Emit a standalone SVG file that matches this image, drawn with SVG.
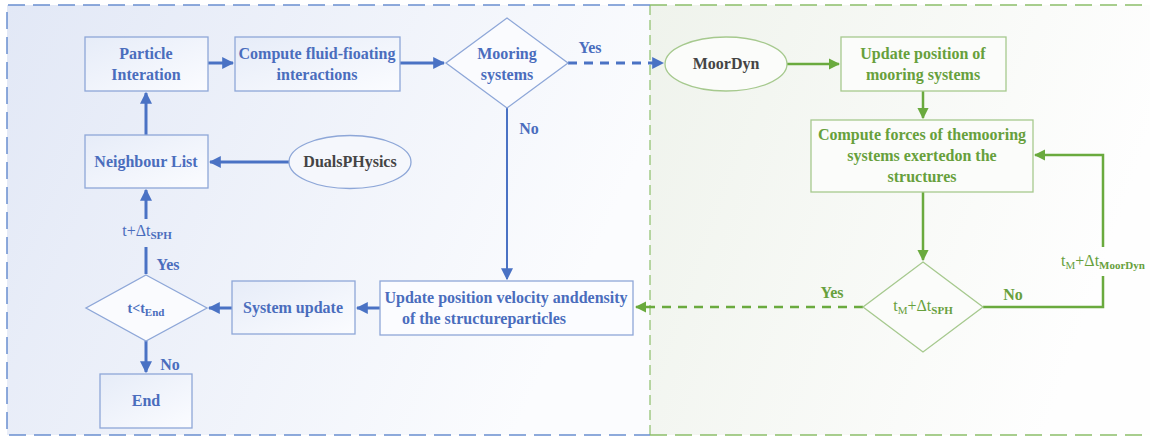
<svg xmlns="http://www.w3.org/2000/svg" width="1151" height="441" viewBox="0 0 1151 441">
<defs>
<linearGradient id="gb" x1="0" y1="0" x2="1" y2="0.3">
<stop offset="0" stop-color="#e2e8f6"/><stop offset="1" stop-color="#fbfcfe"/>
</linearGradient>
<linearGradient id="gg" x1="0" y1="0" x2="1" y2="0.3">
<stop offset="0" stop-color="#eff3ec"/><stop offset="1" stop-color="#fefefe"/>
</linearGradient>
<linearGradient id="nb" x1="0" y1="0" x2="1" y2="1">
<stop offset="0" stop-color="#e6ecf8"/><stop offset="1" stop-color="#fbfcff"/>
</linearGradient>
<marker id="ab" viewBox="0 0 10 10" refX="9" refY="5" markerWidth="4" markerHeight="4" orient="auto" markerUnits="strokeWidth">
<path d="M0,0 L10,5 L0,10 z" fill="#4a72c4"/>
</marker>
<marker id="ab2" viewBox="0 0 10 10" refX="9" refY="5" markerWidth="6" markerHeight="6" orient="auto" markerUnits="strokeWidth">
<path d="M0,0 L10,5 L0,10 z" fill="#4a72c4"/>
</marker>
<marker id="ag" viewBox="0 0 10 10" refX="9" refY="5" markerWidth="4.5" markerHeight="4.5" orient="auto" markerUnits="strokeWidth">
<path d="M0,0 L10,5 L0,10 z" fill="#6aaa3e"/>
</marker>
</defs>
<style>
.bx{fill:url(#nb);stroke:#8ea7d8;stroke-width:1.3}
.gx{fill:#fbfcfa;stroke:#a6c98e;stroke-width:1.3}
text{font-family:'Liberation Serif','Times New Roman',serif;font-weight:bold;font-size:16px;text-anchor:middle}
.tb{fill:#4a6dbd}
.tg{fill:#67a03c}
.td{fill:#444}
.nw{font-weight:normal}
.lb{stroke:#4a72c4;stroke-width:3;fill:none}
.lg{stroke:#6aaa3e;stroke-width:2.5;fill:none}
.sub{font-size:11px}
</style>
<rect x="0" y="0" width="1151" height="441" fill="#fff"/>
<rect x="7" y="5" width="643" height="430" fill="url(#gb)"/>
<rect x="650" y="5" width="500" height="430" fill="url(#gg)"/>
<path d="M650,5 H1150 M650,435 H1150" stroke="#8cbf6a" stroke-width="1.5" stroke-dasharray="17,8" fill="none"/>
<path d="M650,5 V435" stroke="#8cbf6a" stroke-width="1.2" stroke-dasharray="10,5" fill="none"/>
<path d="M650,5 H7 V435 H650" stroke="#6a8fd0" stroke-width="1.5" stroke-dasharray="17,8" fill="none"/>

<g id="connectors">
<path class="lb" d="M208,63 H233" marker-end="url(#ab)"/>
<path class="lb" d="M400,63 H444" marker-end="url(#ab)"/>
<path class="lb" d="M146,135 V93" marker-end="url(#ab)"/>
<path class="lb" d="M289,162 H210" marker-end="url(#ab)"/>
<path class="lb" d="M146,219 V190" marker-end="url(#ab)"/>
<path class="lb" d="M146,274 V247"/>
<path class="lb" d="M232,308 H209" marker-end="url(#ab)"/>
<path class="lb" d="M380,308 H357" marker-end="url(#ab)"/>
<path class="lb" d="M146,341 V372" marker-end="url(#ab)"/>
<path d="M507,108 V279" stroke="#4a72c4" stroke-width="2" fill="none" marker-end="url(#ab2)"/>
<path class="lb" d="M568,63 H663" stroke-dasharray="9,7" marker-end="url(#ab)"/>
<path class="lg" d="M787,64 H839" marker-end="url(#ag)"/>
<path class="lg" d="M923,91 V118" marker-end="url(#ag)"/>
<path class="lg" d="M923,192 V260" marker-end="url(#ag)"/>
<path class="lg" d="M983,307 H1103 V276"/>
<path class="lg" d="M1103,247 V155 H1035" marker-end="url(#ag)"/>
<path class="lg" d="M863,307 H636" stroke-dasharray="9,7" marker-end="url(#ag)"/>
<text class="tb" x="590" y="53">Yes</text>
<text class="tb" x="529" y="134">No</text>
<text class="tb" x="168" y="270">Yes</text>
<text class="tb" x="170" y="370">No</text>
<text class="tb nw" x="147" y="236">t+Δt<tspan class="sub" dy="3" style="font-weight:bold">SPH</tspan></text>
<text class="tg" x="832" y="298">Yes</text>
<text class="tg" x="1013" y="300">No</text>
<text class="tg nw" x="1103" y="266">t<tspan class="sub" dy="3">M</tspan><tspan dy="-3">+Δt</tspan><tspan class="sub" dy="3" style="font-weight:bold">MoorDyn</tspan></text>
</g>

<g id="particle"><rect class="bx" x="85" y="37" width="123" height="54"/>
<text class="tb" x="146" y="59">Particle</text><text class="tb" x="146" y="80">Interation</text></g>
<g id="compute"><rect class="bx" x="235" y="37" width="165" height="54"/>
<text class="tb" x="317" y="59">Compute fluid-fioating</text><text class="tb" x="317" y="80">interactions</text></g>
<g id="mooring"><polygon points="507,18 568,63 507,108 446,63" fill="#fafbfe" stroke="#8ea7d8" stroke-width="1.3"/>
<text class="tb" x="507" y="59">Mooring</text><text class="tb" x="507" y="80">systems</text></g>
<g id="neighbour"><rect class="bx" x="85" y="135" width="123" height="53"/>
<text class="tb" x="146" y="167">Neighbour List</text></g>
<g id="dualsph"><ellipse cx="350" cy="162" rx="61" ry="26.5" fill="#f5f7fc" stroke="#8ea7d8" stroke-width="1.3"/>
<text class="td" x="350" y="167">DualsPHysics</text></g>
<g id="tend"><polygon points="146,275 207,308 146,341 86,308" fill="#fafbfe" stroke="#8ea7d8" stroke-width="1.3"/>
<text class="tb" x="146" y="313" style="font-size:14px">t&lt;t<tspan class="sub" dy="3">End</tspan></text></g>
<g id="sysupdate"><rect class="bx" x="232" y="281" width="123" height="53"/>
<text class="tb" x="293" y="313">System update</text></g>
<g id="updatepos"><rect class="bx" x="380" y="281" width="253" height="54" style="fill:#fbfcff"/>
<text class="tb" x="506" y="303">Update position velocity anddensity</text><text class="tb" x="484" y="324">of the structureparticles</text></g>
<g id="end"><rect class="bx" x="100" y="374" width="92" height="54"/>
<text class="tb" x="146" y="406">End</text></g>
<g id="moordyn"><ellipse cx="726" cy="64" rx="61" ry="27" fill="#fbfcfa" stroke="#a6c98e" stroke-width="1.3"/>
<text class="td" x="726" y="69">MoorDyn</text></g>
<g id="updmoor"><rect class="gx" x="841" y="37" width="165" height="54"/>
<text class="tg" x="923" y="59">Update position of</text><text class="tg" x="923" y="80">mooring systems</text></g>
<g id="forces"><rect class="gx" x="811" y="120" width="222" height="72"/>
<text class="tg" x="922" y="140">Compute forces of themooring</text><text class="tg" x="922" y="161">systems exertedon the</text><text class="tg" x="922" y="182">structures</text></g>
<g id="tmsph"><polygon points="923,262 983,307 923,352 863,307" fill="#fbfcfa" stroke="#a6c98e" stroke-width="1.3"/>
<text class="tg nw" x="923" y="311">t<tspan class="sub" dy="3">M</tspan><tspan dy="-3">+Δt</tspan><tspan class="sub" dy="3" style="font-weight:bold">SPH</tspan></text></g>
</svg>
